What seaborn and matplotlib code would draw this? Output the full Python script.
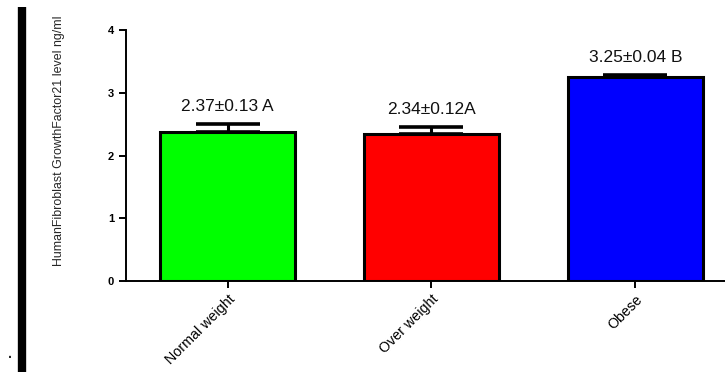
import matplotlib
matplotlib.use("Agg")
import matplotlib.pyplot as plt
import seaborn as sns
import pandas as pd

categories = ["Normal weight", "Over weight", "Obese"]
means = [2.37, 2.34, 3.25]
errors = [0.13, 0.12, 0.04]
labels = ["2.37±0.13 A", "2.34±0.12A", "3.25±0.04 B"]
colors = ["#00FF00", "#FF0000", "#0000FF"]
yticks = [0, 1, 2, 3, 4]

sns.set_theme(style="ticks")
plt.rcParams['font.family'] = ['Liberation Sans', 'DejaVu Sans']

df = pd.DataFrame({"group": categories, "value": means})

fig = plt.figure(figsize=(7.25, 3.72), dpi=100)
ax = fig.add_axes([125.7 / 725, 1 - 281 / 372, 1 - 125.7 / 725, (281 - 30) / 372])

sns.barplot(data=df, x="group", y="value", hue="group", palette=colors,
            order=categories, hue_order=categories, legend=False,
            errorbar=None, width=0.66, edgecolor="black", linewidth=2.2,
            saturation=1, ax=ax)

ax.errorbar(range(len(categories)), means, yerr=[[0] * len(errors), errors],
            fmt="none", ecolor="black", elinewidth=2.2, capsize=23, capthick=2.6,
            zorder=3)

for i, (m, e, t) in enumerate(zip(means, errors, labels)):
    ax.annotate(t, (i, m + e), xytext=(0, 7), textcoords="offset points",
                ha="center", va="bottom", fontsize=12.5, color="#111111")

ax.set_ylim(0, 4)
ax.set_xlim(-0.5, 2.44)
ax.set_yticks(yticks)
ax.set_yticklabels([str(v) for v in yticks], fontsize=8, fontweight="bold")
ax.set_xticks(range(len(categories)))
ax.set_xticklabels(categories, rotation=45, ha="right", va="top",
                   rotation_mode="anchor", fontsize=10.3, fontweight="medium")
ax.set_xlabel("")
ax.set_ylabel("HumanFibroblast GrowthFactor21 level ng/ml", fontsize=8.9)
ax.yaxis.set_label_coords(-0.101, 0.56)

for s in ["top", "right"]:
    ax.spines[s].set_visible(False)
for s in ["left", "bottom"]:
    ax.spines[s].set_linewidth(1.4)
    ax.spines[s].set_color("black")
ax.tick_params(axis="both", direction="out", length=5, width=1.4, color="black",
               labelcolor="black")
ax.tick_params(axis="x", pad=3)

# thick black bar at left edge and a stray dot
fig.add_artist(plt.Line2D([22 / 725, 22 / 725], [0, 1 - 7 / 372], color="black",
                          linewidth=6, transform=fig.transFigure, solid_capstyle="butt"))
fig.text(8 / 725, 1 - 358 / 372, ".", fontsize=10, fontweight="bold")

fig.savefig("out.png", dpi=100)
